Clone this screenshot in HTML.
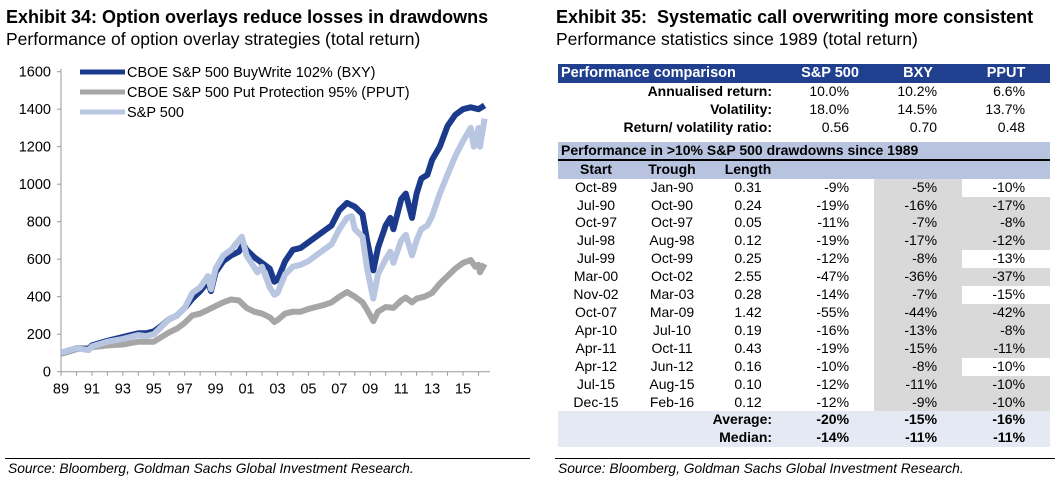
<!DOCTYPE html>
<html><head><meta charset="utf-8">
<style>
body{margin:0;width:1060px;height:486px;background:#fff;font-family:"Liberation Sans",Arial,sans-serif;position:relative;overflow:hidden;color:#000}
.abs{position:absolute;white-space:nowrap}
.t{font-weight:bold;font-size:18px}
.s{font-size:17.5px}
.src{font-style:italic;font-size:13.8px}
table{position:absolute;left:558px;top:64px;width:492px;border-collapse:collapse;font-size:14px;table-layout:fixed}
td{padding:0;height:17.9px;line-height:17.9px;white-space:nowrap}
.h1 td{background:#203f8f;color:#fff;font-weight:bold;height:19px;font-size:14.5px}
.lb{text-align:right;padding-right:14px;font-weight:bold}
.num{text-align:right;padding-right:25px}
.c{text-align:center}
.lh td{background:#b7c3df;font-weight:bold}
.g{background:#d9d9d9}
.av td{background:#e5e9f3;font-weight:bold}
</style></head><body>
<div class="abs t" style="left:6px;top:7px">Exhibit 34: Option overlays reduce losses in drawdowns</div>
<div class="abs s" style="left:6px;top:29px">Performance of option overlay strategies (total return)</div>
<div class="abs t" style="left:556px;top:7px">Exhibit 35:&nbsp; Systematic call overwriting more consistent</div>
<div class="abs s" style="left:556px;top:29px">Performance statistics since 1989 (total return)</div>

<svg id="chart" width="540" height="420" style="position:absolute;left:0;top:0"></svg>

<div class="abs" style="left:5px;top:458px;width:525px;border-top:1px solid #000"></div>
<div class="abs" style="left:555px;top:458px;width:500px;border-top:1px solid #000"></div>
<div class="abs src" style="left:8px;top:461px">Source: Bloomberg, Goldman Sachs Global Investment Research.</div>
<div class="abs src" style="left:558px;top:461px">Source: Bloomberg, Goldman Sachs Global Investment Research.</div>

<table>
<colgroup><col style="width:76px"><col style="width:76px"><col style="width:76px"><col style="width:88px"><col style="width:88px"><col style="width:88px"></colgroup>
<tr class="h1"><td colspan="3" style="padding-left:3px">Performance comparison</td><td class="c">S&amp;P 500</td><td class="c">BXY</td><td class="c">PPUT</td></tr>
<tr><td colspan="3" class="lb">Annualised return:</td><td class="num">10.0%</td><td class="num">10.2%</td><td class="num">6.6%</td></tr>
<tr><td colspan="3" class="lb">Volatility:</td><td class="num">18.0%</td><td class="num">14.5%</td><td class="num">13.7%</td></tr>
<tr><td colspan="3" class="lb">Return/ volatility ratio:</td><td class="num">0.56</td><td class="num">0.70</td><td class="num">0.48</td></tr>
<tr><td colspan="6" style="height:5px"></td></tr>
<tr class="lh"><td colspan="6" style="padding-left:3px;border-bottom:2px solid #000;height:17px;line-height:17px">Performance in &gt;10% S&amp;P 500 drawdowns since 1989</td></tr>
<tr class="lh"><td class="c">Start</td><td class="c">Trough</td><td class="c">Length</td><td></td><td></td><td></td></tr>
<tr><td class="c">Oct-89</td><td class="c">Jan-90</td><td class="c">0.31</td><td class="num">-9%</td><td class="num g">-5%</td><td class="num">-10%</td></tr>
<tr><td class="c">Jul-90</td><td class="c">Oct-90</td><td class="c">0.24</td><td class="num">-19%</td><td class="num g">-16%</td><td class="num g">-17%</td></tr>
<tr><td class="c">Oct-97</td><td class="c">Oct-97</td><td class="c">0.05</td><td class="num">-11%</td><td class="num g">-7%</td><td class="num g">-8%</td></tr>
<tr><td class="c">Jul-98</td><td class="c">Aug-98</td><td class="c">0.12</td><td class="num">-19%</td><td class="num g">-17%</td><td class="num g">-12%</td></tr>
<tr><td class="c">Jul-99</td><td class="c">Oct-99</td><td class="c">0.25</td><td class="num">-12%</td><td class="num g">-8%</td><td class="num">-13%</td></tr>
<tr><td class="c">Mar-00</td><td class="c">Oct-02</td><td class="c">2.55</td><td class="num">-47%</td><td class="num g">-36%</td><td class="num g">-37%</td></tr>
<tr><td class="c">Nov-02</td><td class="c">Mar-03</td><td class="c">0.28</td><td class="num">-14%</td><td class="num g">-7%</td><td class="num">-15%</td></tr>
<tr><td class="c">Oct-07</td><td class="c">Mar-09</td><td class="c">1.42</td><td class="num">-55%</td><td class="num g">-44%</td><td class="num g">-42%</td></tr>
<tr><td class="c">Apr-10</td><td class="c">Jul-10</td><td class="c">0.19</td><td class="num">-16%</td><td class="num g">-13%</td><td class="num g">-8%</td></tr>
<tr><td class="c">Apr-11</td><td class="c">Oct-11</td><td class="c">0.43</td><td class="num">-19%</td><td class="num g">-15%</td><td class="num g">-11%</td></tr>
<tr><td class="c">Apr-12</td><td class="c">Jun-12</td><td class="c">0.16</td><td class="num">-10%</td><td class="num g">-8%</td><td class="num">-10%</td></tr>
<tr><td class="c">Jul-15</td><td class="c">Aug-15</td><td class="c">0.10</td><td class="num">-12%</td><td class="num g">-11%</td><td class="num g">-10%</td></tr>
<tr><td class="c">Dec-15</td><td class="c">Feb-16</td><td class="c">0.12</td><td class="num">-12%</td><td class="num g">-9%</td><td class="num g">-10%</td></tr>
<tr class="av"><td colspan="3" class="lb">Average:</td><td class="num">-20%</td><td class="num">-15%</td><td class="num">-16%</td></tr>
<tr class="av"><td colspan="3" class="lb">Median:</td><td class="num">-14%</td><td class="num">-11%</td><td class="num">-11%</td></tr>
</table>

<script>
const yTicks=[0,200,400,600,800,1000,1200,1400,1600];
const xTickYears=[1989,1991,1993,1995,1997,1999,2001,2003,2005,2007,2009,2011,2013,2015];
const xTickLabels=["89","91","93","95","97","99","01","03","05","07","09","11","13","15"];
const spxYears=[1989,1990,1990.8,1991,1992,1993,1994,1994.5,1995,1995.5,1996,1996.5,1997,1997.5,1998,1998.5,1998.7,1999,1999.5,2000,2000.5,2000.7,2001,2001.7,2002,2002.5,2002.8,2003,2003.5,2004,2004.5,2005,2005.5,2006,2006.5,2007,2007.5,2007.8,2008,2008.5,2008.8,2009.2,2009.5,2010,2010.3,2010.5,2011,2011.3,2011.7,2012,2012.3,2012.7,2013,2013.5,2014,2014.5,2015,2015.5,2015.7,2016,2016.1,2016.4];
const spxValues=[100,125,115,135,160,175,195,190,200,240,280,300,340,420,450,510,440,550,620,650,700,720,620,530,560,450,410,420,520,560,570,590,620,650,680,760,820,830,760,720,550,390,520,600,640,580,700,730,620,700,760,780,830,950,1050,1150,1230,1300,1200,1300,1200,1350];
const bxyYears=[1989,1990,1990.8,1991,1992,1993,1994,1994.5,1995,1995.5,1996,1996.5,1997,1997.5,1998,1998.5,1998.7,1999,1999.5,2000,2000.5,2000.8,2001,2001.5,2002,2002.5,2002.8,2003,2003.5,2004,2004.5,2005,2005.5,2006,2006.5,2007,2007.5,2008,2008.5,2008.8,2009.2,2009.5,2010,2010.3,2010.5,2011,2011.3,2011.7,2012,2012.3,2012.7,2013,2013.5,2014,2014.5,2015,2015.5,2016,2016.4];
const bxyValues=[100,125,120,140,165,185,205,205,215,245,280,300,340,390,430,480,430,530,590,620,640,680,650,610,580,550,480,490,590,650,660,690,720,750,780,860,900,880,840,700,540,660,780,820,760,920,950,820,950,1030,1050,1130,1200,1310,1370,1400,1410,1400,1420];
const pputYears=[1989,1990,1991,1992,1993,1994,1995,1995.5,1996,1996.5,1997,1997.5,1998,1998.5,1999,1999.5,2000,2000.5,2001,2001.5,2002,2002.5,2002.8,2003,2003.5,2004,2004.5,2005,2005.5,2006,2006.5,2007,2007.5,2008,2008.5,2008.8,2009.2,2009.5,2010,2010.5,2011,2011.3,2011.7,2012,2012.5,2013,2013.5,2014,2014.5,2015,2015.5,2015.8,2016,2016.1,2016.4];
const pputValues=[95,120,130,140,145,160,160,185,210,230,260,300,310,330,350,370,385,380,340,320,310,290,265,275,310,320,320,335,345,355,370,400,425,400,370,330,270,320,345,340,380,395,370,390,400,420,470,510,550,580,595,560,570,530,575];

const NS="http://www.w3.org/2000/svg";
const svg=document.getElementById('chart');
const X0=61,X1=463,Y0=371.7,Y1=71.7;
function xs(y){return X0+(y-1989)*(X1-X0)/26;}
function ys(v){return Y0-(v/1600)*(Y0-Y1);}
function mk(tag,attrs){const e=document.createElementNS(NS,tag);for(const k in attrs)e.setAttribute(k,attrs[k]);svg.appendChild(e);return e;}

yTicks.forEach(v=>{
  const t=mk('text',{x:X0-10,y:ys(v)+5,'text-anchor':'end','font-size':'14.5','font-family':'Liberation Sans, Arial, sans-serif'});
  t.textContent=v;
  
  
  const l=mk('line',{x1:X0-4,x2:X0,y1:ys(v),y2:ys(v),stroke:'#999'});
  
  
});
xTickYears.forEach((yr,i)=>{
  const t=mk('text',{x:xs(yr),y:Y0+22,'text-anchor':'middle','font-size':'14.5','font-family':'Liberation Sans, Arial, sans-serif'});
  t.textContent=xTickLabels[i];
  
  
});
for(let yr=1989;yr<=2016;yr++){
  const l=mk('line',{x1:xs(yr),x2:xs(yr),y1:Y0,y2:Y0+4,stroke:'#999'});
  
  
}
const ya=mk('line',{x1:X0,x2:X0,y1:Y1-3,y2:Y0,stroke:'#999'});


const xa=mk('line',{x1:X0,x2:490,y1:Y0,y2:Y0,stroke:'#999'});



function series(yrs,vals,color,name){
  const d=yrs.map((y,i)=>(i?'L':'M')+xs(y).toFixed(1)+','+ys(vals[i]).toFixed(1)).join(' ');
  const p=mk('path',{d:d,fill:'none',stroke:color,'stroke-width':6,'stroke-linejoin':'round'});
  
  
}
series(pputYears,pputValues,'#a6a6a6','pput-line');
series(bxyYears,bxyValues,'#1b3a8c','bxy-line');
series(spxYears,spxValues,'#b8c6e2','sp500-line');

const leg=[['CBOE S&P 500 BuyWrite 102% (BXY)','#1b3a8c'],['CBOE S&P 500 Put Protection 95% (PPUT)','#a6a6a6'],['S&P 500','#b8c6e2']];
leg.forEach((e,i)=>{
  const y=72+i*20;
  const l=mk('line',{x1:80,x2:125,y1:y,y2:y,stroke:e[1],'stroke-width':5});
  
  
  const t=mk('text',{x:127,y:y+5,'font-size':'14.5','font-family':'Liberation Sans, Arial, sans-serif'});
  t.textContent=e[0];
  
  
});
</script>
</body></html>
